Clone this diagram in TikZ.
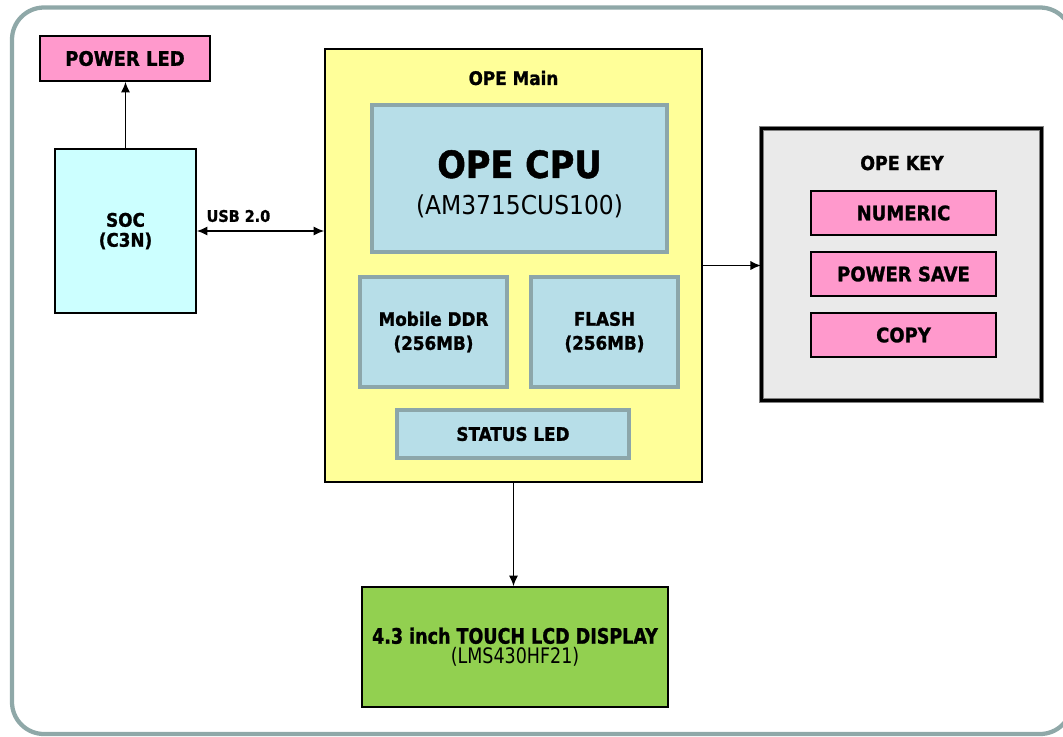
\documentclass[tikz,border=0pt]{standalone}
\usepackage{fontspec}
\setmainfont{DejaVu Sans}[FakeStretch=0.9, BoldFeatures={FakeBold=1.2}]
\newfontfamily\narrowfont{DejaVu Sans}[FakeStretch=0.82, BoldFeatures={FakeBold=1.2}]
\usetikzlibrary{arrows,arrows.meta}
\tikzset{>={Latex[length=8pt,width=7pt]}}
\definecolor{frameColour}{RGB}{143,168,168}
\definecolor{ledColour}{RGB}{255,153,204}
\definecolor{socColour}{RGB}{204,255,255}
\definecolor{mainColour}{RGB}{255,255,153}
\definecolor{partColour}{RGB}{183,222,232}
\definecolor{partLineColour}{RGB}{140,166,170}
\definecolor{keyPanelColour}{RGB}{234,234,234}
\definecolor{lcdColour}{RGB}{146,208,80}
\newcommand{\pxu}{0.75pt}
\tikzset{
	box/.style={draw, line width=1.1pt, inner sep=0pt, align=center},
	part/.style={draw=partLineColour, line width=3pt, fill=partColour, inner sep=0pt, align=center},
	keybox/.style={box, fill=ledColour, minimum width=185*\pxu, minimum height=44*\pxu, font=\bfseries\fontsize{15}{18}\selectfont},
	title/.style={inner sep=0pt, font=\bfseries\fontsize{14}{17}\selectfont},
	link/.style={line width=1.4pt}
}

\begin{document}
\begin{tikzpicture}[x=0.75pt, y=-0.75pt]
		\useasboundingbox (0,0) rectangle (1063,736);
		\clip (0,0) rectangle (1063,736);

		% the outer frame
		\draw[frameColour, line width=3.2pt, rounded corners=24pt] (12,7.5) rectangle (1072,734);

		% power led and soc
		\node[box, fill=ledColour, minimum width=170*\pxu, minimum height=45*\pxu, font=\bfseries\fontsize{15}{18}\selectfont] (pwrled) at (125,58.5) {POWER LED};
		\node[box, fill=socColour, minimum width=141*\pxu, minimum height=164*\pxu, font=\bfseries\fontsize{14}{15}\selectfont] (soc) at (125.5,231) {SOC\\(C3N)};

		% the main board
		\node[box, fill=mainColour, minimum width=377*\pxu, minimum height=433*\pxu] (opemain) at (513.5,265.5) {};
		\node[title] (mainttl) at (513.5,78) {OPE Main};
		\node[part, minimum width=295*\pxu, minimum height=147*\pxu, text height=56pt] (cpu) at (519.5,178.5)
			{{\bfseries\fontsize{28}{30}\selectfont OPE CPU}\\[11pt]{\fontsize{19.5}{24}\selectfont (AM3715CUS100)}};
		\node[part, minimum width=147*\pxu, minimum height=110*\pxu, font=\bfseries\fontsize{14}{18}\selectfont] (ddr) at (433.5,332) {Mobile DDR\\(256MB)};
		\node[part, minimum width=147*\pxu, minimum height=110*\pxu, font=\bfseries\fontsize{14}{18}\selectfont] (flash) at (604.5,332) {FLASH\\(256MB)};
		\node[part, minimum width=232*\pxu, minimum height=48*\pxu, font=\bfseries\fontsize{14}{17}\selectfont] (status) at (513,434) {STATUS LED};

		% the key panel
		\node[box, fill=keyPanelColour, draw=gray, line width=0.6pt, double=black, double distance=2.8pt, minimum width=280*\pxu, minimum height=272*\pxu] (opekey) at (901.5,264.5) {};
		\node[title, font=\bfseries\fontsize{14.5}{17}\selectfont] (keyttl) at (902,163) {OPE KEY};
		\node[keybox] (numeric) at (903.5,213) {NUMERIC};
		\node[keybox] (pwrsave) at (903.5,274) {POWER SAVE};
		\node[keybox] (copy) at (903.5,335) {COPY};

		% the display
		\node[box, fill=lcdColour, minimum width=306*\pxu, minimum height=120*\pxu, font=\narrowfont\fontsize{16}{15}\selectfont] (lcd) at (515,647)
			{\bfseries 4.3 inch TOUCH LCD DISPLAY\\(LMS430HF21)};

		% connections
		\draw[->, link] (soc.north) -- (soc.north |- pwrled.south);
		\draw[<->, link] (soc.east) -- (soc.east -| opemain.west)
			node[pos=0, anchor=south west, inner sep=0pt, xshift=9*\pxu, yshift=8*\pxu, font=\bfseries\fontsize{12}{14}\selectfont] (usb) {USB 2.0};
		\draw[->, link] (opemain.east) -- (opemain.east -| opekey.west);
		\draw[->, link] (opemain.south) -- (opemain.south |- lcd.north);
	\end{tikzpicture}
\end{document}
